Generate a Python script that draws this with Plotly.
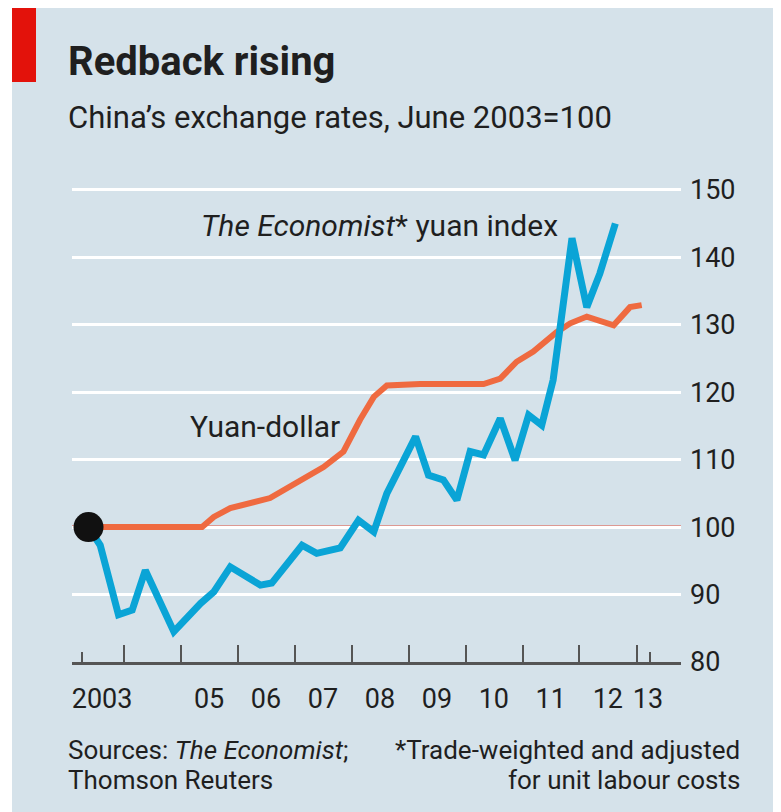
import plotly.graph_objects as go

# Economist* yuan index, June 2003=100
yuan_index_dates = ["2003-05-20", "2003-08-03", "2003-11-28", "2004-02-24", "2004-05-18",
                    "2004-11-17", "2005-05-08", "2005-07-31", "2005-11-14", "2006-05-26",
                    "2006-08-07", "2007-02-17", "2007-05-22", "2007-10-20", "2008-02-14",
                    "2008-05-22", "2008-08-14", "2009-02-14", "2009-05-08", "2009-08-11",
                    "2009-11-06", "2010-01-30", "2010-04-26", "2010-08-11", "2010-11-14",
                    "2011-02-09", "2011-05-04", "2011-07-16", "2011-11-14", "2012-02-17",
                    "2012-05-11", "2012-08-18"]
yuan_index = [100, 97.3, 87.0, 87.7, 93.6,
              84.5, 88.7, 90.4, 94.1, 91.4,
              91.7, 97.3, 96.1, 96.9, 101.0,
              99.3, 105.0, 113.4, 107.7, 107.0,
              104.0, 111.2, 110.7, 116.1, 109.9,
              116.6, 115.1, 121.8, 142.8, 132.6,
              137.6, 145.0]

# yuan-dollar rate, June 2003=100
yuan_dollar_dates = ["2003-05-20", "2005-05-17", "2005-07-31", "2005-11-14", "2006-07-27",
                     "2006-12-02", "2007-03-21", "2007-07-05", "2007-11-10", "2008-02-24",
                     "2008-05-22", "2008-08-14", "2009-03-15", "2009-11-01", "2010-04-26",
                     "2010-08-11", "2010-11-24", "2011-03-11", "2011-08-07", "2011-11-03",
                     "2012-02-17", "2012-08-07", "2012-11-20", "2013-02-03"]
yuan_dollar = [100, 100, 101.5, 102.8, 104.3,
               106.0, 107.5, 108.9, 111.2, 115.9,
               119.3, 121.0, 121.2, 121.2, 121.2,
               122.0, 124.5, 126.0, 128.9, 130.2,
               131.2, 129.9, 132.6, 132.9]

base_value = 100
y_ticks = [80, 90, 100, 110, 120, 130, 140, 150]
y_range = [80, 151]

year_starts = ["2004-01-01", "2005-01-01", "2006-01-01", "2007-01-01", "2008-01-01",
               "2009-01-01", "2010-01-01", "2011-01-01", "2012-01-01", "2013-01-01"]
end_ticks = ["2003-04-08", "2013-03-25"]
label_dates = ["2003-08-15", "2005-07-01", "2006-07-01", "2007-07-01", "2008-07-01",
               "2009-07-01", "2010-07-01", "2011-07-01", "2012-07-01", "2013-03-15"]
label_text = ["2003", "05", "06", "07", "08", "09", "10", "11", "12", "13"]
x_range = ["2003-02-03", "2013-10-13"]

FONT = "Roboto, sans-serif"
BG = "#d5e2ea"
BLUE = "#0aa4d6"
ORANGE = "#ef6a40"
INK = "#1f1f1f"

# the page puts the plot 8px in from the top left corner
OFF = 8
W_FIG, H_FIG = 781 - OFF, 812 - OFF
L, R, T, B = 64, 100, 175, 150
PW = W_FIG - L - R
PH = H_FIG - T - B


def px(x):
    # page pixel -> paper x
    return (x - OFF - L) / PW


def py(y):
    # page pixel -> paper y
    return (H_FIG - B - (y - OFF)) / PH


fig = go.Figure()

fig.add_trace(go.Scatter(x=yuan_dollar_dates, y=yuan_dollar, mode="lines",
                         line=dict(color=ORANGE, width=6), hoverinfo="skip"))
fig.add_trace(go.Scatter(x=yuan_index_dates, y=yuan_index, mode="lines",
                         line=dict(color=BLUE, width=7), hoverinfo="skip"))
fig.add_trace(go.Scatter(x=yuan_index_dates[:1], y=yuan_index[:1], mode="markers",
                         marker=dict(color="#111111", size=30), hoverinfo="skip"))
# only there so the second x axis gets drawn
fig.add_trace(go.Scatter(x=x_range, y=[base_value, base_value], xaxis="x2", mode="lines",
                         line=dict(width=0), hoverinfo="skip"))

# background panel and red tag
fig.add_shape(type="rect", xref="paper", yref="paper", x0=px(12), x1=px(800),
              y0=py(6), y1=py(830), fillcolor=BG, line_width=0, layer="below")
fig.add_shape(type="rect", xref="paper", yref="paper", x0=px(12), x1=px(36),
              y0=py(6), y1=py(82), fillcolor="#e3120b", line_width=0, layer="below")
# base line at 100
fig.add_shape(type="line", xref="paper", yref="y", x0=0, x1=1, y0=base_value, y1=base_value,
              line=dict(color="#e6503c", width=3), layer="below")


def note(text, x, y, size, xanchor="left", yanchor="middle", align="left"):
    fig.add_annotation(text=text, xref="paper", yref="paper", x=px(x), y=py(y),
                       xanchor=xanchor, yanchor=yanchor, align=align, showarrow=False,
                       font=dict(family=FONT, size=size, color=INK))


note("<b>Redback rising</b>", 66, 36, 40, yanchor="top")
note("China’s exchange rates, June 2003=100", 66, 97, 31, yanchor="top")
note("<i>The Economist</i>* yuan index", 560, 226, 30, xanchor="right")
note("Yuan-dollar", 342, 426, 30, xanchor="right")
note("Sources: <i>The Economist</i>;", 66, 750, 26)
note("Thomson Reuters", 66, 780, 26)
note("*Trade-weighted and adjusted", 742, 750, 26, xanchor="right", align="right")
note("for unit labour costs", 742, 780, 26, xanchor="right", align="right")

fig.update_layout(
    width=W_FIG, height=H_FIG,
    margin=dict(l=L, r=R, t=T, b=B),
    paper_bgcolor="white", plot_bgcolor=BG,
    showlegend=False,
    font=dict(family=FONT, color=INK),
    xaxis=dict(type="date", range=x_range, tickmode="array", tickvals=label_dates,
               ticktext=label_text, ticks="", showgrid=False, zeroline=False,
               showline=True, linecolor="#555555", linewidth=3,
               tickfont=dict(family=FONT, size=27, color=INK), ticklabelstandoff=11,
               minor=dict(tickmode="array", tickvals=year_starts, ticks="inside",
                          ticklen=17, tickwidth=2, tickcolor="#555555", showgrid=False)),
    xaxis2=dict(type="date", range=x_range, overlaying="x", anchor="y", side="bottom",
                tickmode="array", tickvals=end_ticks, ticks="inside", ticklen=10,
                tickwidth=2, tickcolor="#555555", showticklabels=False,
                showgrid=False, zeroline=False, showline=False),
    yaxis=dict(range=y_range, side="right", tickmode="array", tickvals=y_ticks,
               showgrid=True, gridcolor="white", gridwidth=3, zeroline=False,
               showline=False, ticks="", automargin=False, ticklabelstandoff=8,
               tickfont=dict(family=FONT, size=27, color=INK)),
)

fig.write_html("out.html")
